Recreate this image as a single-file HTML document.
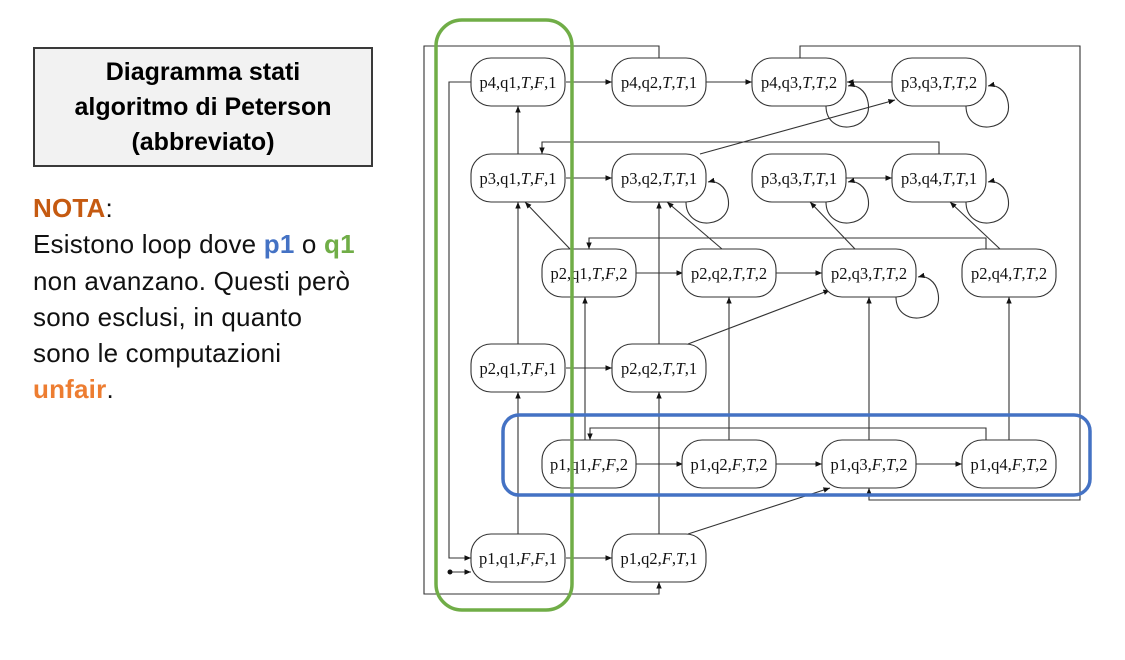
<!DOCTYPE html>
<html><head><meta charset="utf-8"><style>
html,body{margin:0;padding:0;background:#fff;width:1125px;height:660px;overflow:hidden;font-family:"Liberation Sans",sans-serif}
#title{position:absolute;left:33px;top:47px;width:340px;height:120px;background:#f2f2f2;border:2px solid #3a3a3a;box-sizing:border-box;text-align:center;font-weight:bold;font-size:25px;line-height:35px;padding-top:6px;color:#000;white-space:nowrap}
#note{position:absolute;left:33px;top:190px;font-size:26px;line-height:36.3px;color:#111;white-space:nowrap;letter-spacing:0.2px}
svg{position:absolute;left:0;top:0}
</style></head><body>
<div id="title">Diagramma stati<br>algoritmo di Peterson<br>(abbreviato)</div>
<div id="note"><span style="color:#c55a11;font-weight:bold">NOTA</span>:<br>Esistono loop dove <b style="color:#4472c4">p1</b> o <b style="color:#70ad47">q1</b><br>non avanzano. Questi però<br>sono esclusi, in quanto<br>sono le computazioni<br><b style="color:#ed7d31">unfair</b>.</div>
<svg id="g" width="1125" height="660">
<defs><marker id="ah" markerWidth="7" markerHeight="6" refX="6" refY="3" orient="auto"><path d="M0,0.5 L6,3 L0,5.5 z" fill="#111"/></marker></defs>
</svg>
<script>
const nodeLabels=["p4,q1,|T|,|F|,1","p4,q2,|T|,|T|,1","p4,q3,|T|,|T|,2","p3,q3,|T|,|T|,2",
"p3,q1,|T|,|F|,1","p3,q2,|T|,|T|,1","p3,q3,|T|,|T|,1","p3,q4,|T|,|T|,1",
"p2,q1,|T|,|F|,2","p2,q2,|T|,|T|,2","p2,q3,|T|,|T|,2","p2,q4,|T|,|T|,2",
"p2,q1,|T|,|F|,1","p2,q2,|T|,|T|,1",
"p1,q1,|F|,|F|,2","p1,q2,|F|,|T|,2","p1,q3,|F|,|T|,2","p1,q4,|F|,|T|,2",
"p1,q1,|F|,|F|,1","p1,q2,|F|,|T|,1"];
const nodeX=[518,659,799,939, 518,659,799,939, 589,729,869,1009, 518,659, 589,729,869,1009, 518,659];
const nodeY=[82,82,82,82, 178,178,178,178, 273,273,273,273, 368,368, 464,464,464,464, 558,558];
const loops=[2,3,5,6,7,10];
const edges=[
[[566,82],[612,82]],[[706,82],[752,82]],[[892,82],[847,82]],
[[566,178],[612,178]],[[846,178],[892,178]],
[[566,273],[683,273]],[[776,273],[822,273]],
[[566,368],[612,368]],
[[636,464],[683,464]],[[776,464],[822,464]],[[916,464],[962,464]],
[[566,558],[612,558]],
[[518,154],[518,106]],[[518,344],[518,202]],[[518,534],[518,392]],
[[659,344],[659,202]],[[659,534],[659,392]],
[[585,440],[585,297]],[[729,440],[729,297]],[[869,440],[869,297]],[[1009,440],[1009,297]],
[[570,249],[525,202]],[[722,249],[667,202]],[[855,249],[810,202]],[[1000,249],[950,202]],
[[700,154],[895,100]],[[688,344],[830,290]],[[688,534],[830,488]],
[[939,154],[939,142],[542,142],[542,154]],
[[986,249],[986,238],[589,238],[589,249]],
[[986,440],[986,428],[590,428],[590,440]],
[[471,82],[449,82],[449,558],[471,558]],
[[659,58],[659,46],[424,46],[424,594],[659,594],[659,582]],
[[800,58],[800,46],[1080,46],[1080,500],[869,500],[869,488]],
[[452,572],[471,572]]
];
const svg=document.getElementById('g');const NS='http://www.w3.org/2000/svg';
function mk(t,a){const e=document.createElementNS(NS,t);for(const k in a)e.setAttribute(k,a[k]);svg.appendChild(e);return e;}
edges.forEach((p,i)=>{const e=mk('polyline',{points:p.map(q=>q.join(',')).join(' '),fill:'none',stroke:'#333','stroke-width':1.1,'marker-end':'url(#ah)'});

});
const dot=mk('circle',{cx:450,cy:572,r:2.5,fill:'#111'});


loops.forEach(i=>{const x=nodeX[i]+47,y=nodeY[i];
const l=mk('path',{d:`M${x-20},${y+24} C${x-20},${y+55} ${x+28},${y+50} ${x+22},${y+20} C${x+20},${y+8} ${x+10},${y+2} ${x+2},${y+4}`,fill:'none',stroke:'#333','stroke-width':1.1,'marker-end':'url(#ah)'});

});
nodeLabels.forEach((lb,i)=>{const x=nodeX[i],y=nodeY[i];
const r=mk('rect',{x:x-47,y:y-24,width:94,height:48,rx:20,fill:'#fff',stroke:'#333','stroke-width':1.1});


const t=mk('text',{x:x,y:y+6,'text-anchor':'middle','font-family':'Liberation Serif, serif','font-size':16.5,fill:'#111'});


lb.split('|').forEach((s,j)=>{const sp=document.createElementNS(NS,'tspan');if(j%2)sp.setAttribute('font-style','italic');sp.textContent=s;t.appendChild(sp);});});
const g=mk('rect',{x:436,y:20,width:136,height:590,rx:26,fill:'none',stroke:'#70ad47','stroke-width':3.5});


const b=mk('rect',{x:503,y:415,width:587,height:80,rx:16,fill:'none',stroke:'#4472c4','stroke-width':3.5});


</script>
</body></html>
